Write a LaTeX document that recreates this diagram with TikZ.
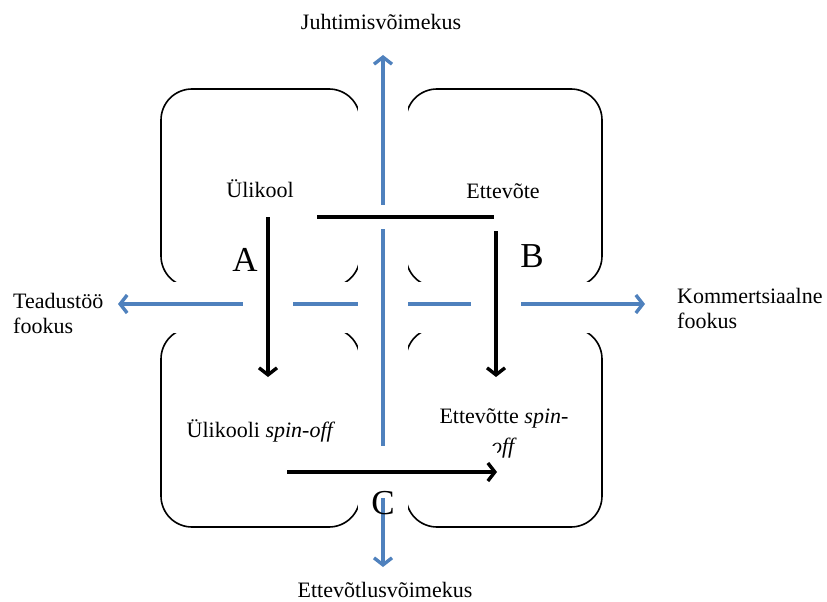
\documentclass[tikz,border=0pt]{standalone}
\usepackage{fontspec}
\setmainfont{Liberation Serif}
\usetikzlibrary{arrows.meta,positioning}
\definecolor{axisblue}{RGB}{79,129,189}

\begin{document}
\begin{tikzpicture}[x=1pt, y=-1pt, font=\fontsize{22}{25}\selectfont]
    \tikzstyle{quad} = [draw, line width=1.6pt, rounded corners=31pt]
    \tikzstyle{mask} = [fill=white, draw=none]
    \tikzstyle{axis} = [draw=axisblue, line width=3.4pt, {Straight Barb[length=7pt,width=18pt]}-{Straight Barb[length=7pt,width=18pt]}]
    \tikzstyle{halo} = [draw=white]
    \tikzstyle{line} = [draw, line width=3.4pt]
    \tikzstyle{flow} = [draw, line width=3.4pt, -{Straight Barb[length=7pt,width=18pt]}]
    \tikzstyle{label} = [inner sep=0pt]
    \tikzstyle{letter} = [inner sep=0pt, font=\fontsize{35}{40}\selectfont]

    \useasboundingbox (0,0) rectangle (827,602);

    % the four quadrants
    \draw[quad] (161,89) rectangle (360,287);
    \draw[quad] (406,89) rectangle (602,287);
    \draw[quad] (161,328) rectangle (360,527);
    \draw[quad] (406,328) rectangle (602,527);
    \path[mask] (150,282) rectangle (612,333);

    % axes
    \coordinate (west) at (118,304);
    \coordinate (east) at (645,304);
    \coordinate (north) at (383,55);
    \coordinate (south) at (383,567);
    \path[axis] (west) -- (east);
    \path[mask] (358,80) rectangle (408,535);
    \path[axis] (south) -- (north);

    % texts
    \node[label, anchor=base] (ylikool) at (260,197) {Ülikool};
    \node[label, anchor=base] (ettevote) at (503,198) {Ettevõte};
    \node[label, anchor=base] (ylispin) at (261,437) {Ülikooli \textit{spin-off}};
    \node[label, anchor=base, align=center, font=\fontsize{22}{30}\selectfont] (ettspin) at (504,453) {Ettevõtte \textit{spin-}\\\textit{off}};
    \node[label, anchor=base] (juhtimine) at (381,30) {Juhtimisvõimekus};
    \node[label, anchor=base] (ettevotlus) at (385,597) {Ettevõtlusvõimekus};
    \node[label, anchor=base west, align=left] (teadus) at (13,333) {Teadustöö\\fookus};
    \node[label, anchor=base west, align=left] (kommerts) at (677,328) {Kommertsiaalne\\fookus};

    % flows between the quadrants
    \coordinate (t0) at (317,217);
    \coordinate (t1) at (494,217);
    \coordinate (a0) at (268,217);
    \coordinate (a1) at (268,377);
    \coordinate (b0) at (496,231);
    \coordinate (b1) at (496,377);
    \coordinate (c0) at (287,472);
    \coordinate (c1) at (497,472);

    \path[halo, line width=24pt] (t0) -- (t1);
    \path[halo, line width=50pt] (a0) -- (a1);
    \path[halo, line width=50pt] (b0) -- (b1);
    \path[halo, line width=52pt] (c0) -- (c1);
    \path[line] (t0) -- (t1);
    \path[flow] (a0) -- (a1);
    \path[flow] (b0) -- (b1);
    \path[flow] (c0) -- (c1);

    \node[letter, anchor=base] (labA) at (245,271) {A};
    \node[letter, anchor=base] (labB) at (532,267) {B};
    \node[letter, anchor=base] (labC) at (383,514) {C};
\end{tikzpicture}
\end{document}
